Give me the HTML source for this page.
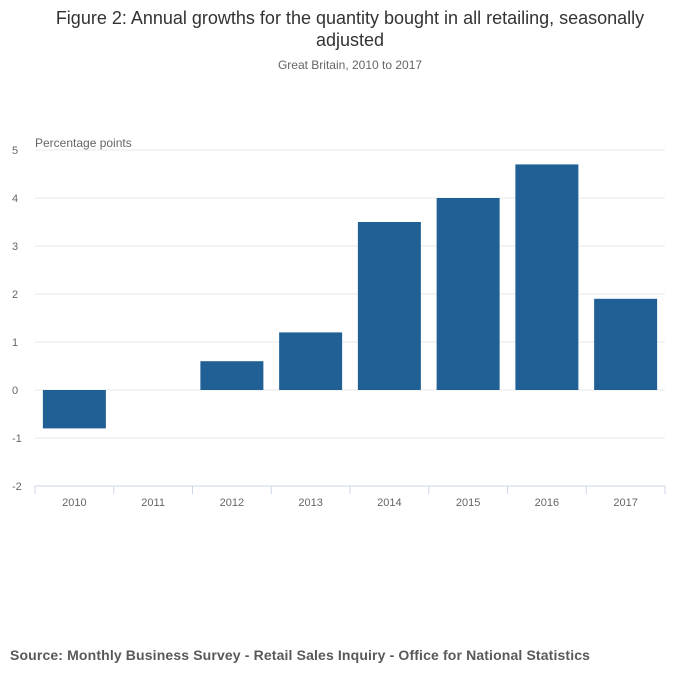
<!DOCTYPE html>
<html><head><meta charset="utf-8"><style>
body{margin:0;background:#fff;font-family:"Liberation Sans",sans-serif;}
svg{display:block}
</style></head><body>
<svg id="chart" width="700" height="682">
<text x="350" y="24" text-anchor="middle" font-size="18" fill="#333">Figure 2: Annual growths for the quantity bought in all retailing, seasonally</text>
<text x="350" y="46" text-anchor="middle" font-size="18" fill="#333">adjusted</text>
<text x="350" y="69" text-anchor="middle" font-size="12" fill="#666">Great Britain, 2010 to 2017</text>
<text x="35" y="147" font-size="12" fill="#666">Percentage points</text>
<g id="grid"></g><g id="bars"></g><g id="xaxis"></g>
<text x="10" y="660" font-size="14" font-weight="bold" fill="#595959" letter-spacing="0.14">Source: Monthly Business Survey - Retail Sales Inquiry - Office for National Statistics</text>
</svg>
<script>
const categories=["2010","2011","2012","2013","2014","2015","2016","2017"];
const values=[-0.8,0,0.6,1.2,3.5,4.0,4.7,1.9];
const yTicks=[5,4,3,2,1,0,-1,-2];
const NS="http://www.w3.org/2000/svg";
const x0=35,x1=665,yTop=150,yBot=486,yMax=5,yMin=-2;
const y=v=>yTop+(yMax-v)*(yBot-yTop)/(yMax-yMin);
const step=(x1-x0)/categories.length;
const xc=i=>x0+step*(i+0.5);
function mk(t,a,p){const e=document.createElementNS(NS,t);for(const k in a)e.setAttribute(k,a[k]);p.appendChild(e);return e;}
const grid=document.getElementById('grid'),bars=document.getElementById('bars'),xa=document.getElementById('xaxis');
yTicks.forEach(t=>{
 if(t>yMin){const l=mk('line',{x1:x0,x2:x1,y1:y(t),y2:y(t),stroke:'#e8e8e8','stroke-width':1},grid);
 
 }
 const tx=mk('text',{x:12,y:y(t)+4,'font-size':11,fill:'#666'},grid);tx.textContent=t;
 
 
});
const ax=mk('line',{x1:x0,x2:x1,y1:yBot,y2:yBot,stroke:'#ccd6eb','stroke-width':1},xa);


for(let i=0;i<=categories.length;i++){const tk=mk('line',{x1:x0+step*i,x2:x0+step*i,y1:yBot,y2:yBot+8,stroke:'#ccd6eb'},xa);
 
 }
const bw=63;
categories.forEach((c,i)=>{
 const v=values[i];const top=Math.min(y(v),y(0)),h=Math.abs(y(v)-y(0));
 const r=mk('rect',{x:xc(i)-bw/2,y:top,width:bw,height:h,fill:'#206095'},bars);
 
 
 const t=mk('text',{x:xc(i),y:yBot+20,'text-anchor':'middle','font-size':11,fill:'#666'},xa);t.textContent=c;
 
 
});
</script>
</body></html>
